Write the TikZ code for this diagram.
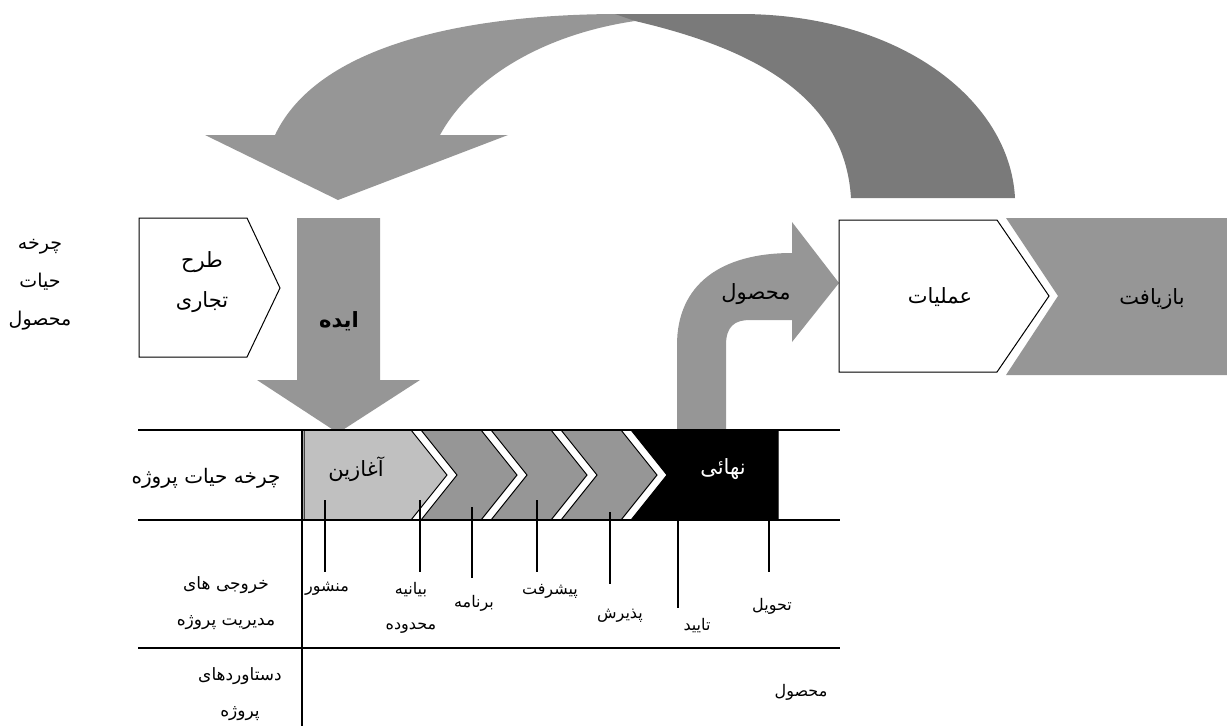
\documentclass[tikz,border=0pt]{standalone}
\usepackage{fontspec}
\newfontfamily\fa[Script=Arabic]{DejaVu Sans}
\TeXXeTstate=1
\newcommand{\rl}[1]{\beginR#1\endR}
\definecolor{lg}{HTML}{C0C0C0}
\definecolor{mg}{HTML}{969696}
\definecolor{dg}{HTML}{7A7A7A}
\begin{document}
\begin{tikzpicture}[x=1pt,y=-1pt,
  big/.style={font=\fa\fontsize{21}{40}\selectfont, align=center, inner sep=0pt},
  mid/.style={font=\fa\fontsize{19}{38}\selectfont, align=center, inner sep=0pt},
  sml/.style={font=\fa\fontsize{16}{35}\selectfont, align=center, inner sep=0pt},
  rowl/.style={font=\fa\fontsize{17}{36}\selectfont, align=center, inner sep=0pt},
  rule/.style={draw=black, line width=1.1pt},
  tick/.style={draw=black, line width=1.1pt},
  pent/.style={draw=black, line width=1pt, fill=white},
  chev/.style={draw=black, line width=1pt}]
\useasboundingbox (0,0) rectangle (1227,726);

% big curved return arrow
\fill[mg] (275,135) .. controls (320,40) and (480,14) .. (620,14) -- (635,21)
  .. controls (540,35) and (470,80) .. (440,135) -- (508,135) -- (338,200) -- (205,135) -- cycle;
\fill[dg] (615,14) -- (740,14) .. controls (900,14) and (1010,100) .. (1015,198)
  -- (851,198) .. controls (845,100) and (760,50) .. (635,21) -- cycle;

% idea arrow
\fill[mg] (297,218) -- (380,218) -- (380,380) -- (420,380) -- (338,433) -- (257,380) -- (297,380) -- cycle;
\node[big, font=\fa\bfseries\fontsize{21}{40}\selectfont] (idea) at (339,321) {\rl{ایده}};

% product arrow
\fill[mg] (677,430) -- (677,345) .. controls (677,285) and (720,253) .. (792,253)
  -- (792,222) -- (839,283) -- (792,342) -- (792,320) -- (750,320)
  .. controls (735,320) and (726,326) .. (726,345) -- (726,430) -- cycle;
\node[big] (prod) at (756,294) {\rl{محصول}};

% business plan pentagon
\draw[pent] (139,218) -- (247,218) -- (280,288) -- (247,357) -- (139,357) -- cycle;
\node[big] (plan) at (202,282) {\rl{طرح}\\\rl{تجاری}};

% product life cycle label
\node[mid] (plc) at (40,285) {\rl{چرخه}\\\rl{حیات}\\\rl{محصول}};

% operations + recycling
\fill[mg] (1006,218) -- (1227,218) -- (1227,375) -- (1006,375) -- (1058,296) -- cycle;
\draw[pent] (839,220) -- (997,220) -- (1049,296) -- (997,372) -- (839,372) -- cycle;
\node[big] (ops) at (940,297) {\rl{عملیات}};
\node[big] (rec) at (1152,299) {\rl{بازیافت}};

% chevrons
\filldraw[chev, fill=lg] (304,430) -- (411,430) -- (447,475) -- (411,520) -- (304,520) -- cycle;
\filldraw[chev, fill=mg] (421,430) -- (481,430) -- (517,475) -- (481,520) -- (421,520) -- (457,475) -- cycle;
\filldraw[chev, fill=mg] (491,430) -- (551,430) -- (587,475) -- (551,520) -- (491,520) -- (527,475) -- cycle;
\filldraw[chev, fill=mg] (561,430) -- (621,430) -- (657,475) -- (621,520) -- (561,520) -- (597,475) -- cycle;
\filldraw[chev, fill=black] (631,430) -- (778,430) -- (778,520) -- (631,520) -- (667,475) -- cycle;
\node[big] (start) at (356,469) {\rl{آغازین}};
\node[big, text=white] (final) at (723,469) {\rl{نهائی}};

% table rules
\draw[rule] (138,430) -- (840,430);
\draw[rule] (138,520) -- (840,520);
\draw[rule] (138,648) -- (840,648);
\draw[rule] (302,430) -- (302,726);
\draw[black, line width=2.6pt] (302,430) -- (302,520);

% row labels
\node[mid, font=\fa\fontsize{20}{38}\selectfont] (rowa) at (206,478) {\rl{چرخه حیات پروژه}};
\node[rowl] (rowb) at (226,603) {\rl{خروجی های}\\\rl{مدیریت پروژه}};
\node[rowl] (rowc) at (240,694) {\rl{دستاوردهای}\\\rl{پروژه}};

% ticks and outputs
\coordinate (k1) at (325,500); \draw[tick] (k1) -- ++(0,72);
\coordinate (k2) at (420,500); \draw[tick] (k2) -- ++(0,72);
\coordinate (k3) at (472,507); \draw[tick] (k3) -- ++(0,71);
\coordinate (k4) at (537,500); \draw[tick] (k4) -- ++(0,72);
\coordinate (k5) at (610,512); \draw[tick] (k5) -- ++(0,72);
\coordinate (k6) at (678,520); \draw[tick] (k6) -- ++(0,88);
\coordinate (k7) at (769,520); \draw[tick] (k7) -- ++(0,52);
\node[sml] (o1) at (327,589) {\rl{منشور}};
\node[sml] (o2) at (411,608) {\rl{بیانیه}\\\rl{محدوده}};
\node[sml] (o3) at (474,603) {\rl{برنامه}};
\node[sml] (o4) at (550,591) {\rl{پیشرفت}};
\node[sml] (o5) at (620,616) {\rl{پذیرش}};
\node[sml] (o6) at (697,626) {\rl{تایید}};
\node[sml] (o7) at (772,606) {\rl{تحویل}};
\node[sml] (o8) at (801,692) {\rl{محصول}};
\end{tikzpicture}
\end{document}
